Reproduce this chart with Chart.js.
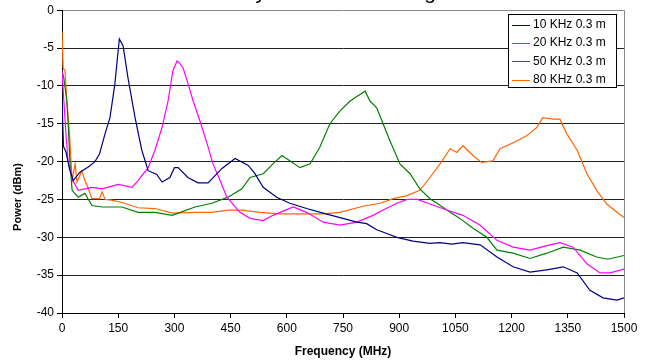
<!DOCTYPE html>
<html>
<head>
<meta charset="utf-8">
<title>Power vs Frequency</title>
<script src="https://cdn.jsdelivr.net/npm/chart.js@4.4.1/dist/chart.umd.min.js"></script>
<style>
  html, body { margin: 0; padding: 0; background: #fff; }
  #wrap { width: 648px; height: 362px; }
</style>
</head>
<body>
<div id="wrap"><canvas id="powerChart" width="648" height="362"></canvas></div>
<script>
// === Data ===
const seriesLabels = ['10 KHz 0.3 m', '20 KHz 0.3 m', '50 KHz 0.3 m', '80 KHz 0.3 m'];
const seriesColors = ['#000080', '#ff00ff', '#008000', '#ff6600'];

const xTicks = [0, 150, 300, 450, 600, 750, 900, 1050, 1200, 1350, 1500];
const yTicks = [0, -5, -10, -15, -20, -25, -30, -35, -40];

const freq10 = [0, 4, 11, 20, 30, 48, 70, 88, 100, 115, 128, 141, 153, 163, 176, 195, 213, 230, 253, 267, 288, 300, 310, 336, 363, 390, 427, 462, 497, 515, 537, 573, 608, 653, 697, 742, 787, 813, 840, 867, 894, 937, 982, 1009, 1040, 1070, 1116, 1161, 1204, 1249, 1294, 1338, 1375, 1409, 1444, 1481, 1500];
const power10 = [-12, -18, -18.8, -21, -22.5, -21.4, -20.7, -20, -19, -16.3, -14.2, -9.8, -3.8, -4.7, -8.9, -14.2, -18.5, -21.2, -21.7, -22.7, -22.1, -20.8, -20.8, -22.1, -22.8, -22.8, -20.9, -19.6, -20.5, -21.6, -23.4, -24.7, -25.5, -26.2, -26.8, -27.4, -28.0, -28.2, -29.0, -29.5, -30.0, -30.5, -30.8, -30.7, -30.9, -30.7, -31.0, -32.6, -33.9, -34.6, -34.3, -33.9, -34.7, -37.0, -38.0, -38.3, -38.0];

const freq20 = [0, 5, 10, 16, 29, 43, 80, 107, 150, 187, 203, 230, 248, 267, 283, 296, 307, 312, 323, 334, 350, 368, 387, 403, 422, 440, 475, 502, 537, 563, 617, 653, 697, 742, 787, 830, 857, 894, 921, 948, 982, 1027, 1070, 1116, 1161, 1204, 1249, 1294, 1329, 1364, 1401, 1436, 1463, 1500];
const power20 = [-8, -12, -16, -19.9, -22.5, -23.8, -23.4, -23.6, -23.0, -23.4, -22.5, -20.8, -18.5, -15.5, -12.0, -8.0, -6.7, -6.9, -7.6, -9.3, -12.0, -14.6, -17.6, -20.3, -22.5, -24.7, -26.7, -27.5, -27.8, -27.1, -26.0, -26.7, -28.0, -28.4, -28.0, -27.1, -26.4, -25.5, -25.0, -25.0, -25.6, -26.4, -27.1, -28.4, -30.4, -31.3, -31.7, -31.1, -30.7, -31.3, -33.5, -34.7, -34.7, -34.2];

const freq50 = [0, 5, 13, 17, 21, 27, 43, 61, 80, 107, 160, 203, 248, 294, 310, 355, 400, 443, 480, 502, 537, 563, 587, 608, 635, 662, 688, 715, 742, 769, 790, 809, 822, 840, 857, 875, 902, 929, 955, 982, 1001, 1027, 1062, 1097, 1134, 1161, 1204, 1249, 1294, 1338, 1383, 1427, 1457, 1500];
const power50 = [-8, -9, -12, -15.5, -19.9, -23.8, -24.7, -24.2, -25.8, -26.0, -26.0, -26.7, -26.7, -27.1, -26.8, -26.0, -25.5, -24.7, -23.6, -22.1, -21.6, -20.3, -19.2, -19.9, -20.8, -20.3, -18.1, -15.0, -13.3, -12.0, -11.3, -10.7, -12.0, -12.9, -15.0, -17.2, -20.3, -21.6, -23.6, -24.9, -25.5, -26.4, -27.5, -28.8, -30.0, -31.7, -32.1, -32.8, -32.1, -31.3, -31.7, -32.6, -32.9, -32.4];

const freq80 = [0, 3, 8, 13, 20, 27, 35, 40, 53, 61, 69, 80, 100, 107, 115, 133, 160, 203, 248, 294, 355, 400, 443, 480, 528, 582, 617, 697, 742, 803, 849, 884, 921, 955, 982, 1009, 1036, 1054, 1070, 1097, 1120, 1150, 1169, 1204, 1240, 1267, 1283, 1312, 1329, 1347, 1375, 1401, 1427, 1454, 1481, 1500];
const power80 = [-2.8, -7.6, -8.0, -12.0, -16.3, -22.5, -20.3, -22.7, -21.2, -22.5, -23.4, -24.9, -24.9, -24.0, -25.0, -25.1, -25.4, -26.1, -26.2, -26.8, -26.7, -26.7, -26.4, -26.4, -26.7, -26.9, -26.9, -26.9, -26.7, -25.9, -25.5, -24.9, -24.5, -23.8, -22.1, -20.3, -18.3, -18.8, -17.9, -19.2, -20.1, -19.9, -18.3, -17.5, -16.6, -15.5, -14.2, -14.4, -14.4, -16.3, -18.5, -21.6, -23.8, -25.6, -26.7, -27.4];

const freqs = [freq10, freq20, freq50, freq80];
const powers = [power10, power20, power50, power80];

// === Build datasets ===
const datasets = seriesLabels.map((label, i) => ({
  label: label,
  data: freqs[i].map((f, j) => ({ x: f, y: powers[i][j] })),
  borderColor: seriesColors[i],
  backgroundColor: seriesColors[i],
  borderWidth: 1.2,
  pointRadius: 0,
  tension: 0
}));

// === Extra drawing: cut-off title, y title, frame, legend ===
const decorPlugin = {
  id: 'decor',
  beforeDatasetsDraw(chart) {
    const { ctx, chartArea } = chart;
    ctx.save();
    ctx.strokeStyle = '#888';
    ctx.lineWidth = 1;
    ctx.beginPath();
    ctx.moveTo(Math.round(chartArea.right) + 0.5, chartArea.top);
    ctx.lineTo(Math.round(chartArea.right) + 0.5, chartArea.bottom);
    ctx.stroke();
    ctx.restore();
  },
  afterDraw(chart) {
    const { ctx } = chart;
    ctx.save();

    // title, sitting above the top edge so only descenders show
    ctx.font = '21px Arial';
    ctx.fillStyle = '#000';
    ctx.textAlign = 'left';
    ctx.textBaseline = 'alphabetic';
    const head = 'Sensitivity';
    const titleText = 'Sensitivity at Various Settings';
    const x0 = 266 - ctx.measureText(head).width;
    ctx.fillText(titleText, x0, -1);

    // y axis title
    ctx.font = 'bold 11px Arial';
    ctx.textAlign = 'center';
    ctx.textBaseline = 'middle';
    ctx.translate(18, 197);
    ctx.rotate(-Math.PI / 2);
    ctx.fillText('Power (dBm)', 0, 0);
    ctx.setTransform(1, 0, 0, 1, 0, 0);

    // legend box
    const lx = 508, ly = 14, lw = 108, lh = 73;
    ctx.fillStyle = '#fff';
    ctx.fillRect(lx, ly, lw, lh);
    ctx.strokeStyle = '#000';
    ctx.lineWidth = 1;
    ctx.strokeRect(lx + 0.5, ly + 0.5, lw, lh);
    ctx.font = '12px Arial';
    ctx.textAlign = 'left';
    ctx.textBaseline = 'middle';
    chart.data.datasets.forEach((ds, i) => {
      const rowY = ly + 10.5 + i * 18.4;
      ctx.strokeStyle = ds.borderColor;
      ctx.beginPath();
      ctx.moveTo(lx + 4, Math.round(rowY) + 0.5);
      ctx.lineTo(lx + 22, Math.round(rowY) + 0.5);
      ctx.stroke();
      ctx.fillStyle = '#000';
      ctx.fillText(ds.label, lx + 25, rowY);
    });
    ctx.restore();
  }
};

// === Chart ===
const powerChart = new Chart(document.getElementById('powerChart'), {
  type: 'line',
  data: { datasets: datasets },
  plugins: [decorPlugin],
  options: {
    responsive: false,
    animation: false,
    layout: { padding: { top: 9, right: 24, left: 0, bottom: 0 } },
    plugins: {
      legend: { display: false },
      tooltip: { enabled: false }
    },
    scales: {
      x: {
        type: 'linear',
        min: 0,
        max: 1500,
        afterBuildTicks: (scale) => { scale.ticks = xTicks.map(v => ({ value: v })); },
        afterFit: (scale) => { scale.height = 49; },
        ticks: {
          color: '#000',
          font: { family: 'Arial', size: 12 },
          padding: 3,
          maxRotation: 0,
          autoSkip: false,
          callback: (value) => String(value)
        },
        grid: { drawOnChartArea: false, drawTicks: true, tickLength: 5, color: '#000' },
        border: { color: '#000', width: 1 },
        title: {
          display: true,
          text: 'Frequency (MHz)',
          color: '#000',
          font: { family: 'Arial', size: 12, weight: 'bold' },
          padding: { top: 0, bottom: 3 }
        }
      },
      y: {
        type: 'linear',
        min: -40,
        max: 0,
        afterBuildTicks: (scale) => { scale.ticks = yTicks.map(v => ({ value: v })); },
        afterFit: (scale) => { scale.width = 62; },
        ticks: { color: '#000', font: { family: 'Arial', size: 12 }, padding: 3 },
        grid: {
          color: (c) => (c.tick && c.tick.value === 0 ? '#888' : '#222'),
          tickColor: '#000',
          tickLength: 5
        },
        border: { color: '#000', width: 1 }
      }
    }
  }
});
</script>
</body>
</html>
